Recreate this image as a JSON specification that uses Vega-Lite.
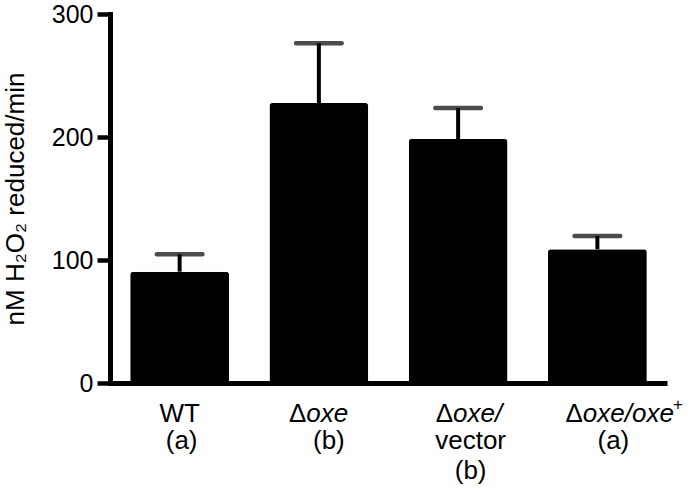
{
  "$schema": "https://vega.github.io/schema/vega-lite/v6.json",
  "width": 557,
  "height": 369,
  "autosize": {"type": "none"},
  "padding": {"left": 110, "top": 14, "right": 22, "bottom": 112},
  "background": "white",
  "config": {"view": {"stroke": null}, "font": "Liberation Sans"},
  "datasets": {
    "bars": [
      {"group": "WT", "mean": 90.5, "upper": 104.6},
      {"group": "Δoxe", "mean": 227.6, "upper": 276.2},
      {"group": "Δoxe/vector", "mean": 198.4, "upper": 223.6},
      {"group": "Δoxe/oxe+", "mean": 108.7, "upper": 119.5}
    ],
    "labels": [
      {"group": "WT", "part": "wt1", "text": "WT"},
      {"group": "WT", "part": "wt2", "text": "(a)"},
      {"group": "Δoxe", "part": "d1a", "text": "Δ"},
      {"group": "Δoxe", "part": "d1b", "text": "oxe"},
      {"group": "Δoxe", "part": "d2", "text": "(b)"},
      {"group": "Δoxe/vector", "part": "v1a", "text": "Δ"},
      {"group": "Δoxe/vector", "part": "v1b", "text": "oxe/"},
      {"group": "Δoxe/vector", "part": "v2", "text": "vector"},
      {"group": "Δoxe/vector", "part": "v3", "text": "(b)"},
      {"group": "Δoxe/oxe+", "part": "c1a", "text": "Δ"},
      {"group": "Δoxe/oxe+", "part": "c1b", "text": "oxe/oxe"},
      {"group": "Δoxe/oxe+", "part": "c1c", "text": "+"},
      {"group": "Δoxe/oxe+", "part": "c2", "text": "(a)"}
    ]
  },
  "data": {"name": "bars"},
  "encoding": {
    "x": {
      "field": "group",
      "type": "nominal",
      "sort": null,
      "scale": {"domain": ["WT", "Δoxe", "Δoxe/vector", "Δoxe/oxe+"], "paddingInner": 0.29, "paddingOuter": 0.145},
      "axis": {"title": null, "labels": false, "ticks": false, "domainWidth": 5, "domainColor": "black"}
    }
  },
  "layer": [
    {
      "mark": {"type": "bar", "color": "black", "cornerRadiusTopLeft": 3, "cornerRadiusTopRight": 3},
      "encoding": {
        "y": {
          "field": "mean",
          "type": "quantitative",
          "scale": {"domain": [0, 300], "nice": false, "zero": true},
          "axis": {
            "title": "nM H₂O₂ reduced/min",
            "values": [0, 100, 200, 300],
            "grid": false,
            "tickSize": 13,
            "tickWidth": 4.5,
            "tickColor": "black",
            "domainWidth": 5,
            "domainColor": "black",
            "domainCap": "square",
            "labelFont": "Liberation Sans",
            "labelFontSize": 25,
            "labelColor": "black",
            "labelPadding": 4,
            "titleFont": "Liberation Sans",
            "titleFontSize": 26,
            "titleFontWeight": "normal",
            "titleColor": "black",
            "titlePadding": 23
          }
        }
      }
    },
    {
      "mark": {"type": "rule", "color": "black", "strokeWidth": 4},
      "encoding": {
        "y": {"field": "mean", "type": "quantitative"},
        "y2": {"field": "upper"}
      }
    },
    {
      "mark": {"type": "tick", "color": "black", "thickness": 4.5, "size": 50, "orient": "horizontal", "cornerRadius": 2},
      "encoding": {"y": {"field": "upper", "type": "quantitative"}}
    },
    {
      "data": {"name": "labels"},
      "transform": [{"filter": "datum.part === 'wt1'"}],
      "mark": {"type": "text", "fontSize": 26, "baseline": "alphabetic", "align": "center", "dy": 38.5, "dx": 0, "color": "black"},
      "encoding": {"y": {"datum": 0, "type": "quantitative"}, "text": {"field": "text"}}
    },
    {
      "data": {"name": "labels"},
      "transform": [{"filter": "datum.part === 'wt2'"}],
      "mark": {"type": "text", "fontSize": 26, "baseline": "alphabetic", "align": "center", "dy": 66, "dx": 2, "color": "black"},
      "encoding": {"y": {"datum": 0, "type": "quantitative"}, "text": {"field": "text"}}
    },
    {
      "data": {"name": "labels"},
      "transform": [{"filter": "datum.part === 'd1a'"}],
      "mark": {"type": "text", "fontSize": 26, "baseline": "alphabetic", "align": "left", "dy": 38.5, "dx": -30, "color": "black"},
      "encoding": {"y": {"datum": 0, "type": "quantitative"}, "text": {"field": "text"}}
    },
    {
      "data": {"name": "labels"},
      "transform": [{"filter": "datum.part === 'd1b'"}],
      "mark": {"type": "text", "fontSize": 26, "fontStyle": "italic", "baseline": "alphabetic", "align": "left", "dy": 38.5, "dx": -12.6, "color": "black"},
      "encoding": {"y": {"datum": 0, "type": "quantitative"}, "text": {"field": "text"}}
    },
    {
      "data": {"name": "labels"},
      "transform": [{"filter": "datum.part === 'd2'"}],
      "mark": {"type": "text", "fontSize": 26, "baseline": "alphabetic", "align": "center", "dy": 66, "dx": 10, "color": "black"},
      "encoding": {"y": {"datum": 0, "type": "quantitative"}, "text": {"field": "text"}}
    },
    {
      "data": {"name": "labels"},
      "transform": [{"filter": "datum.part === 'v1a'"}],
      "mark": {"type": "text", "fontSize": 26, "baseline": "alphabetic", "align": "left", "dy": 38.5, "dx": -22.5, "color": "black"},
      "encoding": {"y": {"datum": 0, "type": "quantitative"}, "text": {"field": "text"}}
    },
    {
      "data": {"name": "labels"},
      "transform": [{"filter": "datum.part === 'v1b'"}],
      "mark": {"type": "text", "fontSize": 26, "fontStyle": "italic", "baseline": "alphabetic", "align": "left", "dy": 38.5, "dx": -5.1, "color": "black"},
      "encoding": {"y": {"datum": 0, "type": "quantitative"}, "text": {"field": "text"}}
    },
    {
      "data": {"name": "labels"},
      "transform": [{"filter": "datum.part === 'v2'"}],
      "mark": {"type": "text", "fontSize": 26, "baseline": "alphabetic", "align": "center", "dy": 66, "dx": 12.5, "color": "black"},
      "encoding": {"y": {"datum": 0, "type": "quantitative"}, "text": {"field": "text"}}
    },
    {
      "data": {"name": "labels"},
      "transform": [{"filter": "datum.part === 'v3'"}],
      "mark": {"type": "text", "fontSize": 26, "baseline": "alphabetic", "align": "center", "dy": 96, "dx": 12.5, "color": "black"},
      "encoding": {"y": {"datum": 0, "type": "quantitative"}, "text": {"field": "text"}}
    },
    {
      "data": {"name": "labels"},
      "transform": [{"filter": "datum.part === 'c1a'"}],
      "mark": {"type": "text", "fontSize": 26, "baseline": "alphabetic", "align": "left", "dy": 38.5, "dx": -32, "color": "black"},
      "encoding": {"y": {"datum": 0, "type": "quantitative"}, "text": {"field": "text"}}
    },
    {
      "data": {"name": "labels"},
      "transform": [{"filter": "datum.part === 'c1b'"}],
      "mark": {"type": "text", "fontSize": 26, "fontStyle": "italic", "baseline": "alphabetic", "align": "left", "dy": 38.5, "dx": -14.6, "color": "black"},
      "encoding": {"y": {"datum": 0, "type": "quantitative"}, "text": {"field": "text"}}
    },
    {
      "data": {"name": "labels"},
      "transform": [{"filter": "datum.part === 'c1c'"}],
      "mark": {"type": "text", "fontSize": 17, "baseline": "alphabetic", "align": "left", "dy": 27, "dx": 75.5, "color": "black"},
      "encoding": {"y": {"datum": 0, "type": "quantitative"}, "text": {"field": "text"}}
    },
    {
      "data": {"name": "labels"},
      "transform": [{"filter": "datum.part === 'c2'"}],
      "mark": {"type": "text", "fontSize": 26, "baseline": "alphabetic", "align": "center", "dy": 66, "dx": 16, "color": "black"},
      "encoding": {"y": {"datum": 0, "type": "quantitative"}, "text": {"field": "text"}}
    }
  ]
}
